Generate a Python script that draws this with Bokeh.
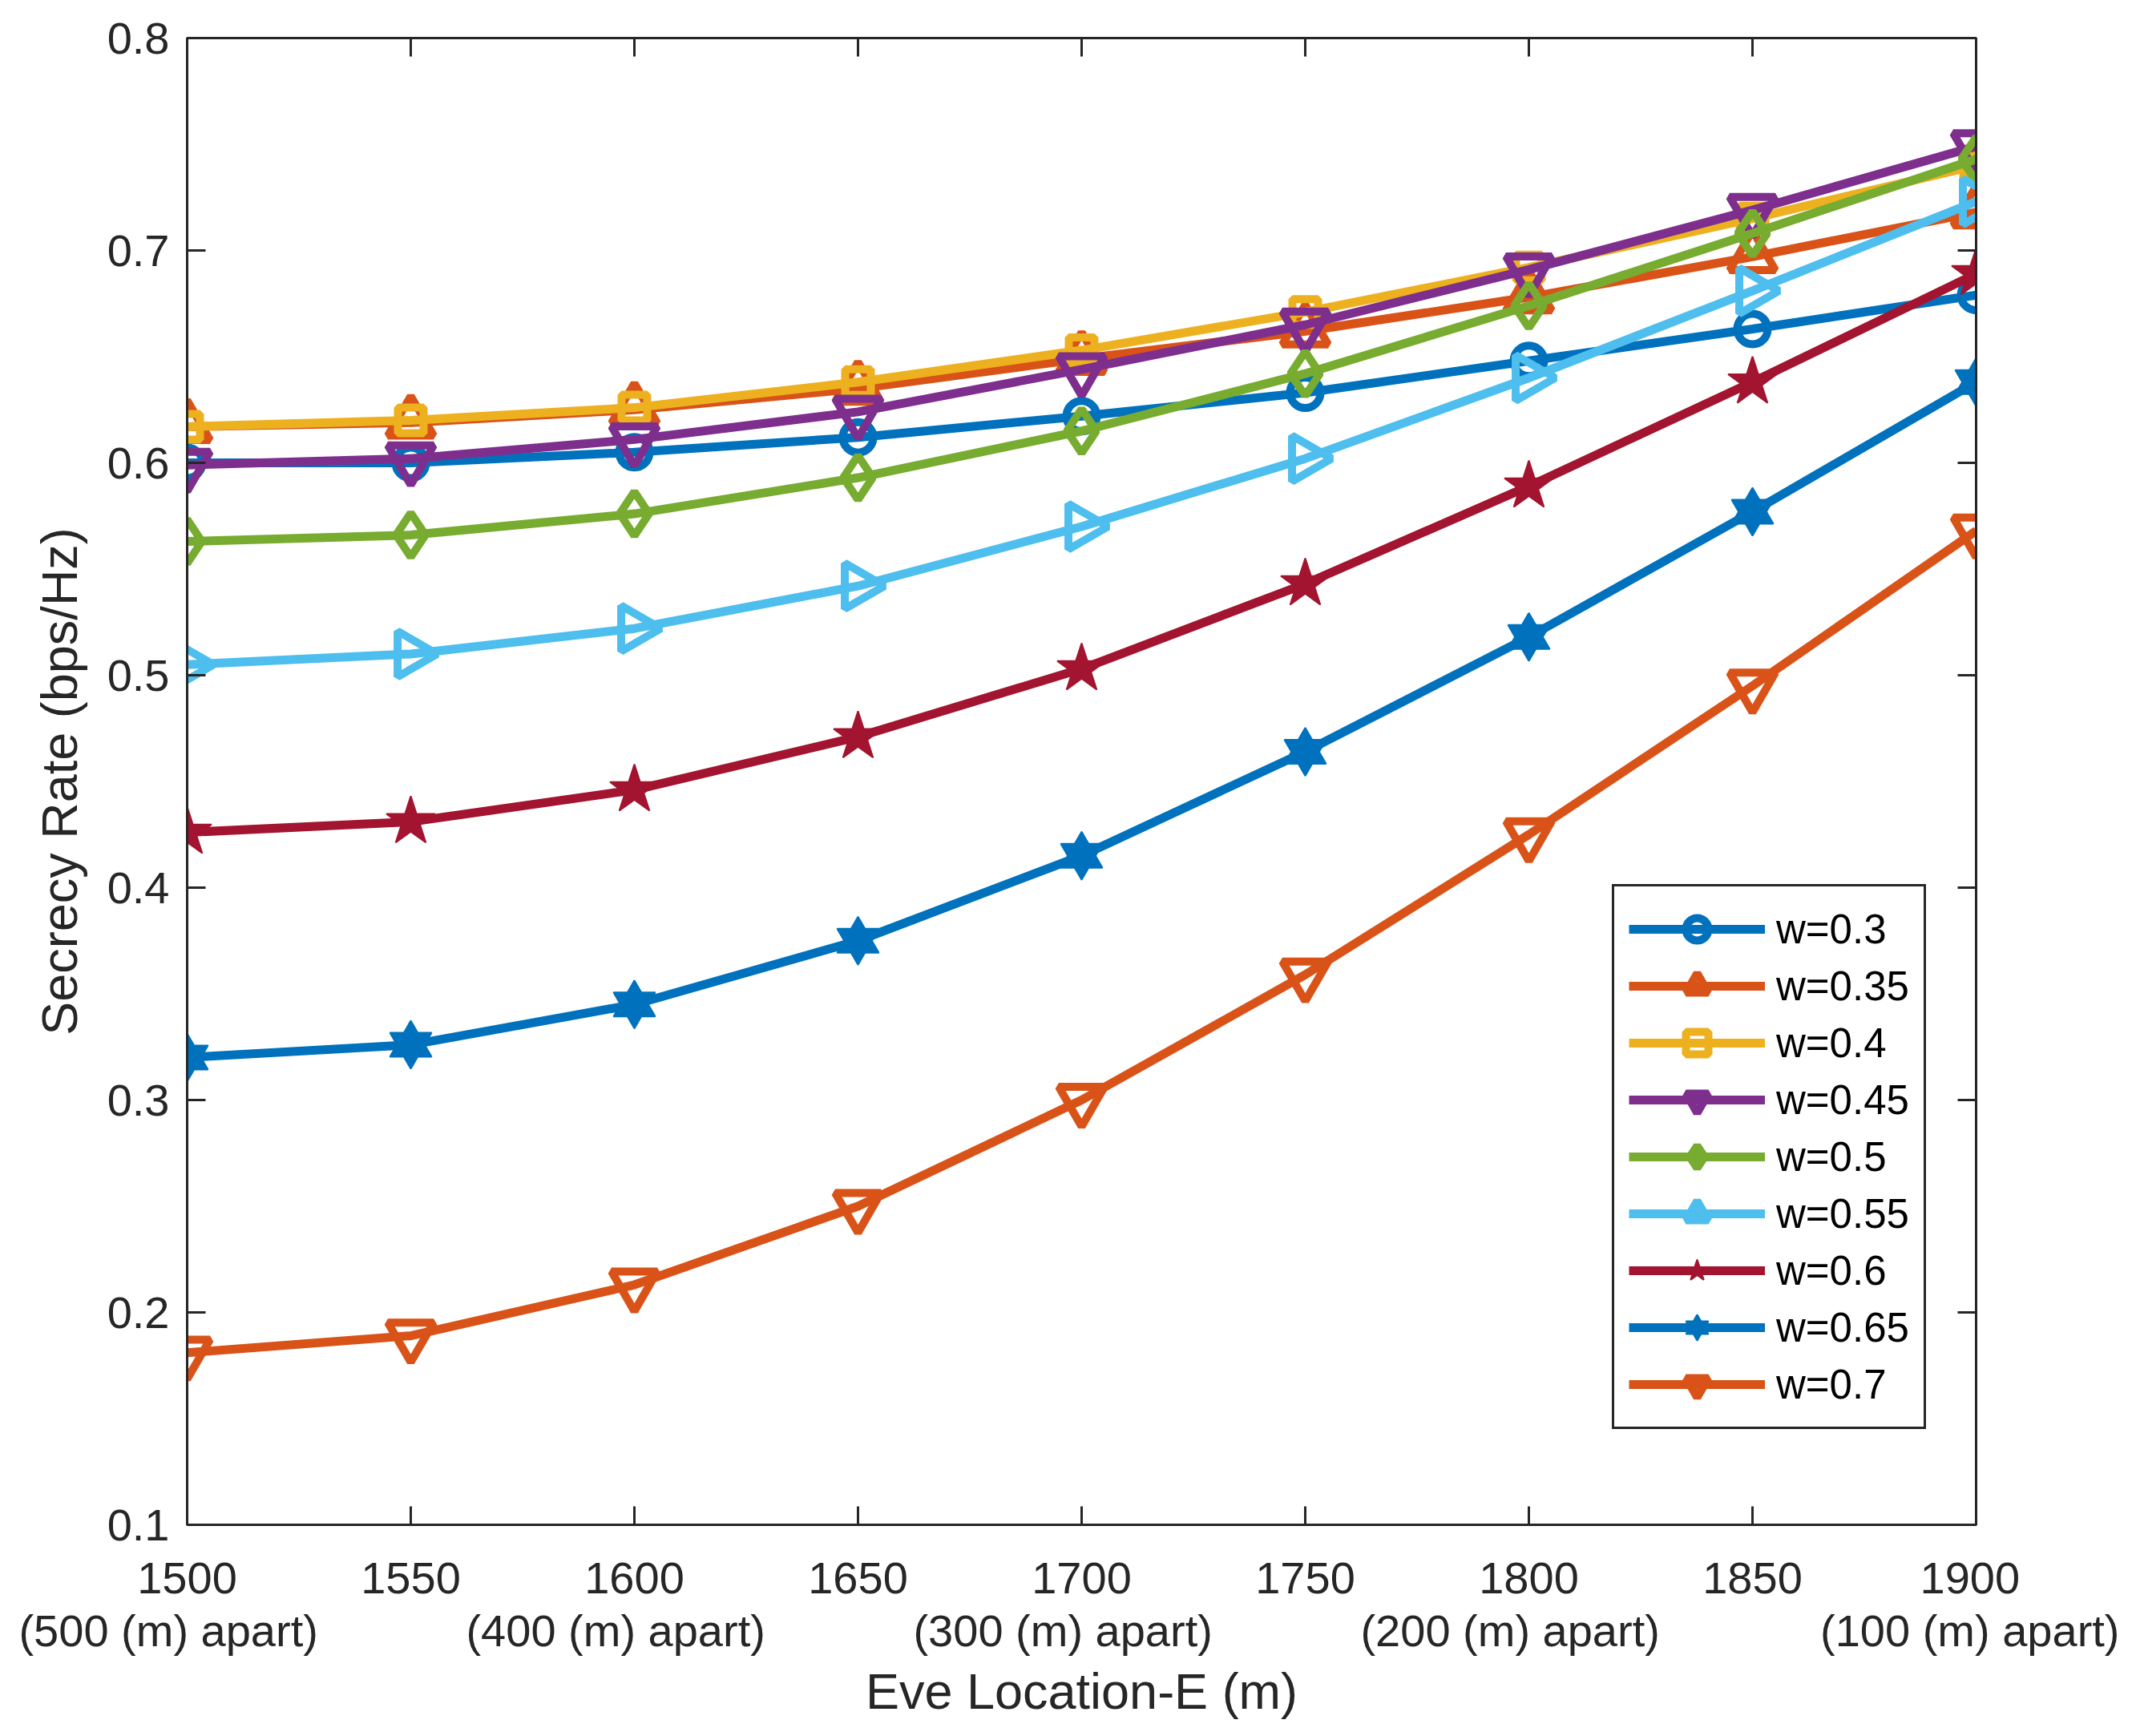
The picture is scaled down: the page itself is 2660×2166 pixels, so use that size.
import math
from bokeh.plotting import figure
from bokeh.models import Range1d, FixedTicker, LinearAxis, Legend, LegendItem
from bokeh.embed import file_html
from bokeh.resources import INLINE

# ---------------- data ----------------
x_vals = [1500, 1550, 1600, 1650, 1700, 1750, 1800, 1850, 1900]
x_tick_labels = ["1500\n(500 (m) apart)", "1550", "1600\n(400 (m) apart)", "1650",
                 "1700\n(300 (m) apart)", "1750", "1800\n(200 (m) apart)", "1850",
                 "1900\n(100 (m) apart)"]
y_ticks = [0.1, 0.2, 0.3, 0.4, 0.5, 0.6, 0.7, 0.8]
y_tick_labels = ["0.1", "0.2", "0.3", "0.4", "0.5", "0.6", "0.7", "0.8"]
x_title = "Eve Location-E (m)"
y_title = "Secrecy Rate (bps/Hz)"

series_names = ["w=0.3", "w=0.35", "w=0.4", "w=0.45", "w=0.5", "w=0.55", "w=0.6", "w=0.65", "w=0.7"]
w_03 = [0.600, 0.600, 0.605, 0.612, 0.622, 0.633, 0.648, 0.663, 0.679]
w_035 = [0.617, 0.619, 0.625, 0.635, 0.649, 0.662, 0.678, 0.697, 0.718]
w_04 = [0.617, 0.620, 0.626, 0.638, 0.653, 0.671, 0.692, 0.715, 0.740]
w_045 = [0.599, 0.602, 0.611, 0.624, 0.644, 0.665, 0.691, 0.719, 0.749]
w_05 = [0.563, 0.566, 0.576, 0.593, 0.615, 0.642, 0.674, 0.708, 0.743]
w_055 = [0.505, 0.510, 0.522, 0.542, 0.570, 0.602, 0.640, 0.681, 0.723]
w_06 = [0.426, 0.431, 0.446, 0.471, 0.503, 0.543, 0.589, 0.638, 0.689]
w_065 = [0.320, 0.326, 0.345, 0.375, 0.415, 0.464, 0.518, 0.577, 0.638]
w_07 = [0.181, 0.189, 0.213, 0.250, 0.300, 0.359, 0.425, 0.495, 0.568]
series_values = [w_03, w_035, w_04, w_045, w_05, w_055, w_06, w_065, w_07]

colors = ["#0072BD", "#D95319", "#EDB120", "#7E2F8E", "#77AC30", "#4DBEEE", "#A2142F", "#0072BD", "#D95319"]
# (marker, size, angle, filled)
marker_specs = [
    [("circle", 38, 0.0, False)],
    [("triangle", 57, 0.0, False)],
    [("square", 32, 0.0, False)],
    [("inverted_triangle", 57, 0.0, False)],
    [("diamond", 55, 0.0, False)],
    [("triangle", 57, -math.pi / 2, False)],
    [("star", 64, 0.0, True)],
    [("triangle", 52, 0.0, True), ("inverted_triangle", 52, 0.0, True)],
    [("inverted_triangle", 57, 0.0, False)],
]

FONT = "Liberation Sans"
AX = "#262626"
NBSP = "\u00a0"

W, H = 2644, 2150
p = figure(width=W, height=H, output_backend="svg", toolbar_location=None,
           x_range=Range1d(1500, 1900), y_range=Range1d(0.1, 0.8),
           min_border_left=233, min_border_right=179, min_border_top=47, min_border_bottom=248)
p.xgrid.visible = False
p.ygrid.visible = False
p.outline_line_color = AX
p.outline_line_width = 3
p.background_fill_color = "white"
p.border_fill_color = "white"


def style_axis(ax, show_labels):
    ax.axis_line_color = AX
    ax.axis_line_width = 3
    ax.major_tick_line_color = AX
    ax.major_tick_line_width = 3
    ax.major_tick_in = 23
    ax.major_tick_out = 0
    ax.minor_tick_line_color = None
    ax.major_label_text_font = FONT
    if show_labels:
        ax.major_label_text_font_size = "56px"
        ax.major_label_text_color = AX
    else:
        ax.major_label_text_font_size = "1px"
        ax.major_label_text_color = None
        ax.major_label_standoff = 0


def shift_second_line(lbl, is_last):
    # MATLAB draws the second line slightly left of the tick
    parts = lbl.split("\n")
    if len(parts) > 1 and not is_last:
        parts[1] = parts[1] + NBSP * 3
    return "\n".join(parts)


n_x = len(x_vals)
x_overrides = {xv: shift_second_line(lbl, i == n_x - 1)
               for i, (xv, lbl) in enumerate(zip(x_vals, x_tick_labels))}
y_overrides = {yv: lbl for yv, lbl in zip(y_ticks, y_tick_labels)}

xa = p.xaxis[0]
xa.ticker = FixedTicker(ticks=x_vals)
xa.major_label_overrides = x_overrides
style_axis(xa, True)
xa.major_label_standoff = 34
xa.major_label_text_line_height = 1.05
xa.axis_label = x_title
xa.axis_label_text_font = FONT
xa.axis_label_text_font_size = "63px"
xa.axis_label_text_font_style = "normal"
xa.axis_label_text_color = AX
xa.axis_label_standoff = 6

ya = p.yaxis[0]
ya.ticker = FixedTicker(ticks=y_ticks)
ya.major_label_overrides = y_overrides
style_axis(ya, True)
ya.major_label_standoff = 22
ya.axis_label = y_title
ya.axis_label_text_font = FONT
ya.axis_label_text_font_size = "63px"
ya.axis_label_text_font_style = "normal"
ya.axis_label_text_color = AX
ya.axis_label_standoff = 22

top_ax = LinearAxis(ticker=FixedTicker(ticks=x_vals))
style_axis(top_ax, False)
p.add_layout(top_ax, "above")
right_ax = LinearAxis(ticker=FixedTicker(ticks=y_ticks))
style_axis(right_ax, False)
p.add_layout(right_ax, "right")

items = []
for name, vals, col, specs in zip(series_names, series_values, colors, marker_specs):
    rends = [p.line(x_vals, vals, line_color=col, line_width=11)]
    for (mk, sz, ang, filled) in specs:
        r = p.scatter(x_vals, vals, marker=mk, size=sz, angle=ang,
                      line_color=col, line_width=2 if filled else 10,
                      fill_color=col if filled else None)
        rends.append(r)
    items.append(LegendItem(label=name, renderers=rends))

legend = Legend(items=items, location=(1778, 119))
legend.border_line_color = AX
legend.border_line_width = 3
legend.border_line_alpha = 1.0
legend.background_fill_color = "white"
legend.background_fill_alpha = 1.0
legend.label_text_font = FONT
legend.label_text_font_size = "51px"
legend.label_text_color = "black"
legend.glyph_width = 170
legend.glyph_height = 70
legend.label_height = 70
legend.spacing = 1
legend.padding = 18
legend.margin = 0
legend.label_standoff = 14
p.add_layout(legend)

open("out.html", "w").write(file_html(p, INLINE))
